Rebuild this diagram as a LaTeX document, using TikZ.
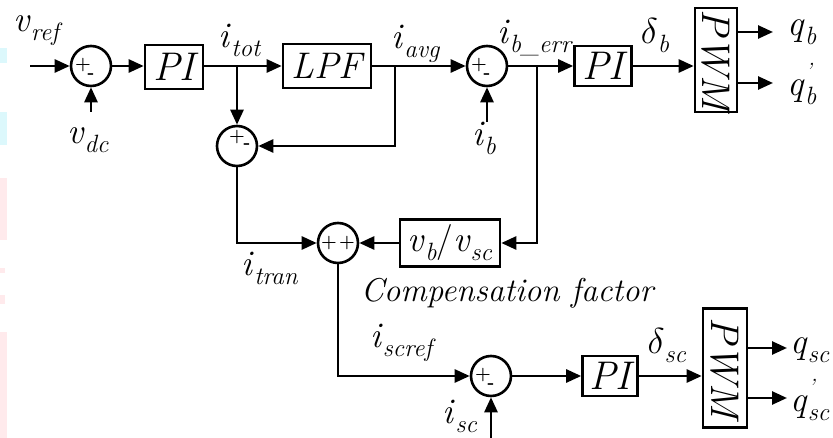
\documentclass[tikz,border=0pt]{standalone}
\usepackage{fontspec}
\usetikzlibrary{arrows.meta,positioning,calc}
\definecolor{edgeCyan}{RGB}{220,248,252}
\definecolor{edgePink}{RGB}{255,234,236}
\newcommand{\sig}[2]{\textit{#1}\raisebox{-0.25em}{\fontsize{25}{25}\selectfont\textit{#2}}}
\newcommand{\sigp}[2]{\textit{#1}\rlap{\raisebox{0.45em}{\fontsize{22}{22}\selectfont\textit{'}}}\raisebox{-0.25em}{\fontsize{25}{25}\selectfont\textit{#2}}}
\newcommand{\bigdelta}{\scalebox{1.45}{$\delta$}}

\begin{document}
\begin{tikzpicture}[x=1pt, y=-1pt, line width=2.6pt,
    >={Triangle[length=15pt,width=13pt]},
    blk/.style={draw, rectangle, inner sep=0pt, font=\fontsize{40}{40}\selectfont\itshape},
    sumj/.style={draw, circle, minimum size=40pt, inner sep=0pt},
    sgn/.style={inner sep=0pt, font=\fontsize{18}{18}\selectfont\bfseries},
    lbl/.style={inner sep=0pt, font=\fontsize{36}{36}\selectfont}
  ]
  \useasboundingbox (0,0) rectangle (833,438);

  % faint strips on the left edge
  \fill[edgeCyan] (0,48) rectangle (7,63);
  \fill[edgeCyan] (0,112) rectangle (7,145);
  \fill[edgePink] (0,178) rectangle (7,240);
  \fill[edgePink] (0,268) rectangle (5,273);
  \fill[edgePink] (0,295) rectangle (5,304);
  \fill[edgePink] (0,332) rectangle (7,438);

  % battery loop
  \node[sumj] (sumA) at (91,66) {};
  \node[blk, minimum width=58pt, minimum height=44pt] (piA) at (174,67) {PI};
  \node[blk, minimum width=88pt, minimum height=44pt, font=\fontsize{37}{37}\selectfont\itshape] (lpf) at (327,66) {LPF};
  \node[sumj] (sumB) at (237,146) {};
  \node[sumj] (sumC) at (487,66) {};
  \node[blk, minimum width=57pt, minimum height=40pt] (piB) at (603,66) {PI};
  \node[blk, minimum width=42pt, minimum height=104pt] (pwmB) at (716,60) {\rotatebox{-90}{PWM}};

  % supercapacitor loop
  \node[sumj] (sumD) at (338,243) {};
  \node[blk, minimum width=100pt, minimum height=47pt, font=\fontsize{36}{36}\selectfont] (ratio) at (450,243)
    {\sig{v}{b}/\sig{v}{sc}};
  \node[sumj] (sumE) at (491,376) {};
  \node[blk, minimum width=55pt, minimum height=40pt] (piC) at (610,376) {PI};
  \node[blk, minimum width=44pt, minimum height=119pt] (pwmC) at (725,368) {\rotatebox{-90}{PWM}};

  % signs
  \node[sgn] at ([xshift=-8pt,yshift=1pt]sumA.center) {+};
  \node[sgn] at ([yshift=-10pt]sumA.center) {-};
  \node[sgn] at ([yshift=9pt]sumB.center) {+};
  \node[sgn] at ([xshift=10pt]sumB.center) {-};
  \node[sgn] at ([xshift=-8pt,yshift=1pt]sumC.center) {+};
  \node[sgn] at ([yshift=-10pt]sumC.center) {-};
  \node[sgn] at ([xshift=-9pt]sumD.center) {+};
  \node[sgn] at ([xshift=9pt]sumD.center) {+};
  \node[sgn] at ([xshift=-8pt,yshift=1pt]sumE.center) {+};
  \node[sgn] at ([yshift=-10pt]sumE.center) {-};

  % free ends
  \coordinate (vin) at (30,66);
  \coordinate (vdcin) at (91,112);
  \coordinate (ibin) at (487,122);
  \coordinate (iscin) at (491,440);
  \coordinate (brT) at (237,66);
  \coordinate (brA) at (395,66);
  \coordinate (brE) at (537,66);
  \coordinate (qb1) at (773,32);
  \coordinate (qb2) at (773,83);
  \coordinate (qs1) at (787,348);
  \coordinate (qs2) at (787,398);

  % connectors
  \draw[->] (vin) -- (sumA);
  \draw[->] (vdcin) -- (sumA.south);
  \draw[->] (sumA) -- (sumA -| piA.west);
  \draw[->] (piA.east |- lpf) -- (lpf);
  \draw[->] (brT) -- (sumB.north);
  \draw[->] (lpf) -- (sumC);
  \draw[->] (brA) |- (sumB.east);
  \draw[->] (ibin) -- (sumC.south);
  \draw[->] (sumC) -- (piB);
  \draw[->] (piB) -- (piB -| pwmB.west);
  \draw[->] (pwmB.east |- qb1) -- (qb1);
  \draw[->] (pwmB.east |- qb2) -- (qb2);
  \draw[->] (brE) |- (ratio.east);
  \draw[->] (ratio) -- (sumD);
  \draw[->] (sumB.south) |- (sumD.west);
  \draw[->] (sumD.south) |- (sumE.west);
  \draw[->] (iscin) -- (sumE.south);
  \draw[->] (sumE) -- (piC);
  \draw[->] (piC) -- (piC -| pwmC.west);
  \draw[->] (pwmC.east |- qs1) -- (qs1);
  \draw[->] (pwmC.east |- qs2) -- (qs2);

  % labels
  \node[lbl] (lvref) at (38,31) {\sig{v}{ref}};
  \node[lbl] (lvdc) at (88,140) {\sig{v}{dc}};
  \node[lbl] (litot) at (240,40) {\sig{i}{tot}};
  \node[lbl] (liavg) at (416,44) {\sig{i}{avg}};
  \node[lbl] (liberr) at (535,38) {\sig{i}{b\_err}};
  \node[lbl] (lib) at (484,138) {\sig{i}{b}};
  \node[lbl] (ldb) at (655,36) {\sig{\bigdelta}{b}};
  \node[lbl] (lqb) at (802,32) {\sig{q}{b}};
  \node[lbl] (lqbp) at (802,84) {\sigp{q}{b}};
  \node[lbl] (litran) at (270,268) {\sig{i}{tran}};
  \node[lbl, font=\fontsize{33}{33}\selectfont\itshape] (lcomp) at (507,293) {Compensation factor};
  \node[lbl] (liscref) at (403,343) {\sig{i}{scref}};
  \node[lbl] (lisc) at (460,416) {\sig{i}{sc}};
  \node[lbl] (ldsc) at (667,346) {\sig{\bigdelta}{sc}};
  \node[lbl] (lqsc) at (810,350) {\sig{q}{sc}};
  \node[lbl] (lqscp) at (810,400) {\sigp{q}{sc}};
\end{tikzpicture}
\end{document}
